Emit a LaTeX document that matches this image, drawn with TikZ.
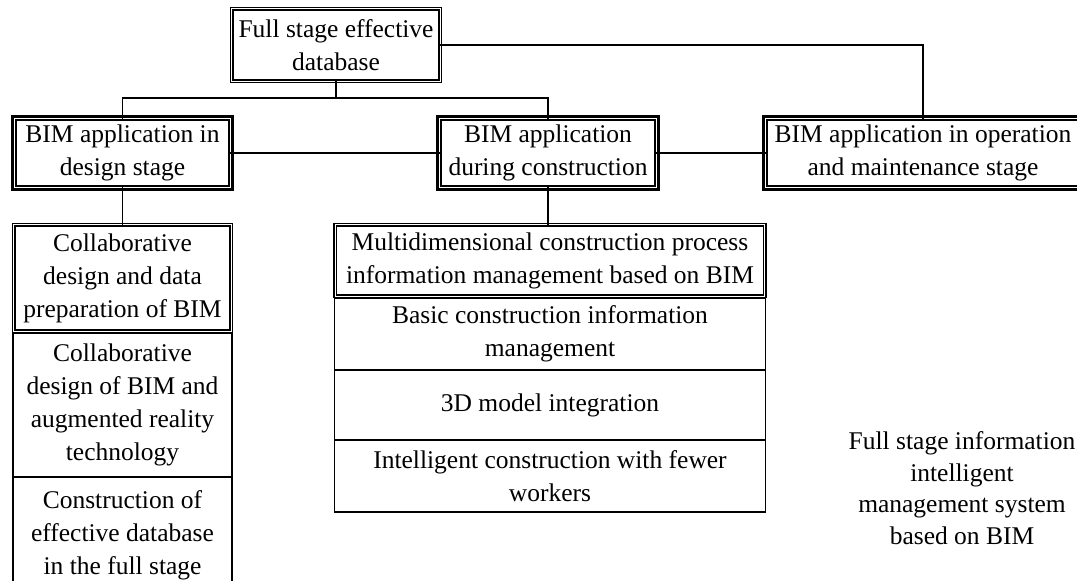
\documentclass[tikz,border=0pt]{standalone}
\usepackage{fontspec}
\setmainfont{Liberation Serif}
\usetikzlibrary{calc}
\tikzset{>=latex}
\tikzset{
  box/.style={draw, line width=1.7pt, align=center, inner sep=0pt, outer sep=0pt,
    font=\fontsize{25.5}{33}\selectfont},
  link/.style={line width=1.8pt},
  note/.style={align=center, font=\fontsize{25.5}{31.5}\selectfont}
}

\begin{document}
\begin{tikzpicture}[x=1pt, y=-1pt]
\useasboundingbox (0,0) rectangle (1077,581);
% top and stage boxes
\node[box, line width=1.1pt, minimum width=206pt, minimum height=70pt] (full) at (336,45) {Full stage effective\\database};
\node[box, line width=1.1pt, minimum width=213pt, minimum height=66pt] (design) at (122.5,153) {BIM application in\\design stage};
\node[box, line width=1.1pt, minimum width=214pt, minimum height=66pt] (constr) at (548,153) {BIM application\\during construction};
\node[box, line width=1.1pt, minimum width=312pt, minimum height=66pt] (oper) at (923,153) {BIM application in operation\\and maintenance stage};
% design column
\node[box, line width=1.1pt, minimum width=215pt, minimum height=104pt] (collab) at (122.5,278) {Collaborative\\design and data\\preparation of BIM};
\node[box, minimum width=219pt, minimum height=144pt] (augment) at (122.5,405) {Collaborative\\design of BIM and\\augmented reality\\technology};
\node[box, minimum width=219pt, minimum height=116pt] (database) at (122.5,535) {Construction of\\effective database\\in the full stage};
% construction column
\node[box, line width=1.1pt, minimum width=427pt, minimum height=69pt] (multi) at (550,260.5) {Multidimensional construction process\\information management based on BIM};
\node[box, minimum width=431pt, minimum height=72pt] (basic) at (550,334) {Basic construction information\\management};
\node[box, minimum width=431pt, minimum height=70pt] (model) at (550,405) {3D model integration};
\node[box, minimum width=431pt, minimum height=72pt] (fewer) at (550,476) {Intelligent construction with fewer\\workers};
\node[note] (system) at (962,488) {Full stage information\\intelligent\\management system\\based on BIM};
% outer frames
\foreach \n in {full,collab,multi}
  \draw[line width=1.6pt] ([shift={(-2.6pt,2.6pt)}]\n.north west) rectangle ([shift={(2.6pt,-2.6pt)}]\n.south east);
\foreach \n in {design,constr,oper}
  \draw[line width=3pt] ([shift={(-3.1pt,3.1pt)}]\n.north west) rectangle ([shift={(3.1pt,-3.1pt)}]\n.south east);
% connectors
\draw[link] (full.south) -- ++(0,18) -| (design.north);
\draw[link] (full.south) -- ++(0,18) -| (constr.north);
\draw[link] (full.east) -| (oper.north);
\draw[link] (design.east) -- (constr.west);
\draw[link] (constr.east) -- (oper.west);
\draw[link] (design.south) -- (collab.north);
\draw[link] (constr.south) -- (constr.south |- multi.north);
\end{tikzpicture}
\end{document}
